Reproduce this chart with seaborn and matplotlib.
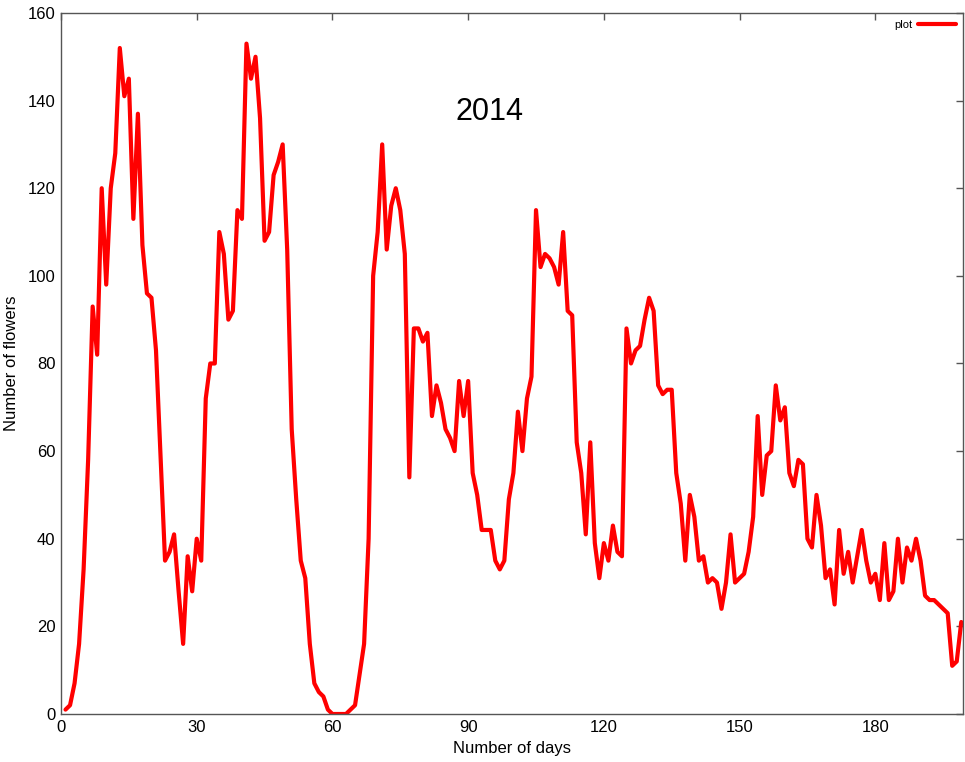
import matplotlib
matplotlib.use('Agg')
import matplotlib.pyplot as plt
import seaborn as sns


days = list(range(1, 200))
flowers = [
    1, 2, 7, 16, 33, 58, 93, 82, 120, 98,
    120, 128, 152, 141, 145, 113, 137, 107, 96, 95,
    83, 59, 35, 37, 41, 28, 16, 36, 28, 40,
    35, 72, 80, 80, 110, 105, 90, 92, 115, 113,
    153, 145, 150, 136, 108, 110, 123, 126, 130, 106,
    65, 49, 35, 31, 16, 7, 5, 4, 1, 0,
    0, 0, 0, 1, 2, 9, 16, 40, 100, 110,
    130, 106, 116, 120, 115, 105, 54, 88, 88, 85,
    87, 68, 75, 71, 65, 63, 60, 76, 68, 76,
    55, 50, 42, 42, 42, 35, 33, 35, 49, 55,
    69, 60, 72, 77, 115, 102, 105, 104, 102, 98,
    110, 92, 91, 62, 55, 41, 62, 39, 31, 39,
    35, 43, 37, 36, 88, 80, 83, 84, 90, 95,
    92, 75, 73, 74, 74, 55, 48, 35, 50, 45,
    35, 36, 30, 31, 30, 24, 30, 41, 30, 31,
    32, 37, 45, 68, 50, 59, 60, 75, 67, 70,
    55, 52, 58, 57, 40, 38, 50, 43, 31, 33,
    25, 42, 32, 37, 30, 36, 42, 35, 30, 32,
    26, 39, 26, 28, 40, 30, 38, 35, 40, 35,
    27, 26, 26, 25, 24, 23, 11, 12, 21,
]
x_ticks = [0, 30, 60, 90, 120, 150, 180]
y_ticks = [0, 20, 40, 60, 80, 100, 120, 140, 160]

sns.set_style('white')
plt.rcParams['font.family'] = ['Liberation Sans', 'DejaVu Sans']
plt.rcParams['text.color'] = 'black'
plt.rcParams['axes.labelcolor'] = 'black'

fig = plt.figure(figsize=(9.65, 7.62), dpi=100)
ax = fig.add_axes([0.0632, 0.063, 0.9348, 0.920])

sns.lineplot(x=days, y=flowers, color='red', linewidth=3, label='plot', ax=ax)

ax.set_xlim(0, 199.4)
ax.set_ylim(0, 160)
ax.set_xticks(x_ticks)
ax.set_yticks(y_ticks)
ax.tick_params(direction='in', length=5, width=1, color='#555555',
               labelcolor='black', top=True, right=True, labelsize=12, pad=4)
for s in ax.spines.values():
    s.set_color('#555555')
    s.set_linewidth(1)

ax.set_xlabel('Number of days', fontsize=12, labelpad=5)
ax.set_ylabel('Number of flowers', fontsize=12)
ax.yaxis.set_label_coords(-0.046, 0.5)

ax.text(0.4746, 0.859, '2014', transform=ax.transAxes, fontsize=22,
        ha='center', va='center', color='black')

leg = ax.legend(loc='upper right', frameon=False, markerfirst=False, fontsize=8,
                handlelength=3.5, borderaxespad=0.2, handletextpad=0.5)
for t in leg.get_texts():
    t.set_color('black')

fig.savefig('out.png', dpi=100)
